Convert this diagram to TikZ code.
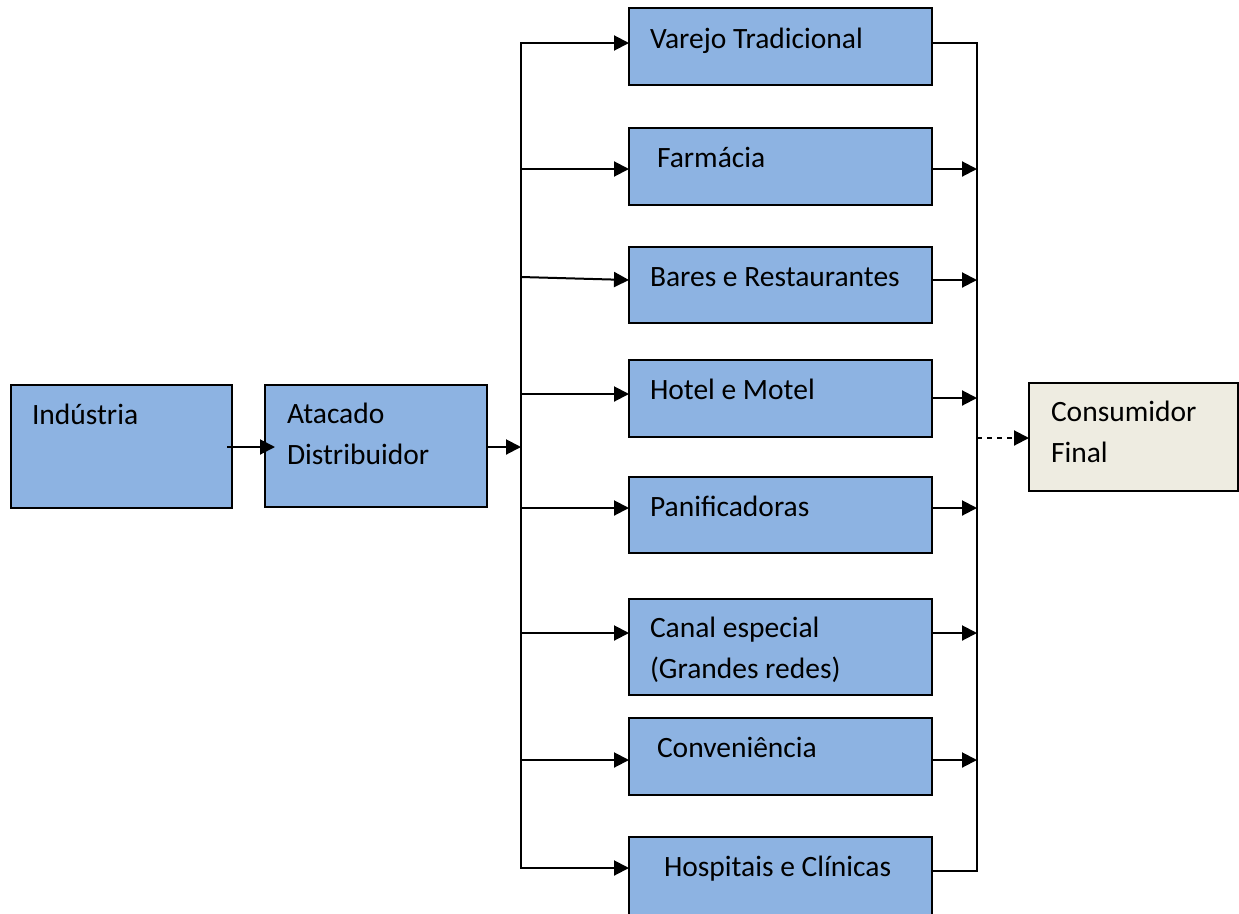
\documentclass[tikz,border=0pt]{standalone}
\usepackage{fontspec}
\setmainfont{Carlito}
\usetikzlibrary{arrows.meta,calc}
\definecolor{boxblue}{HTML}{8DB3E2}
\definecolor{boxbeige}{HTML}{EEECE1}
\newcommand{\twolines}[2]{\vtop{\hbox{#1}\hbox{#2}}}
\tikzset{
  chbox/.style={draw=black, line width=2pt, fill=boxblue, rectangle,
    inner sep=0pt, outer sep=0pt, anchor=north west},
  endbox/.style={chbox, fill=boxbeige},
  lbl/.style={anchor=base west, inner sep=0pt, outer sep=0pt,
    font=\fontsize{29.5}{41}\selectfont},
  link/.style={line width=2pt, -{Triangle[length=15pt,width=15pt]}},
  plainline/.style={line width=2pt},
  spine/.style={line width=2pt, line cap=rect},
}
\begin{document}
\begin{tikzpicture}[x=1pt,y=-1pt]
\path[use as bounding box] (0,0) rectangle (1239,913);
\clip (0,0) rectangle (1239,913);

% boxes
\node[chbox, minimum width=221pt, minimum height=123pt] (ind)    at (11,385)  {};
\node[chbox, minimum width=222pt, minimum height=122pt] (atac)   at (265,385) {};
\node[chbox, minimum width=303pt, minimum height=77pt]  (varejo) at (629,8)   {};
\node[chbox, minimum width=303pt, minimum height=77pt]  (farm)   at (629,128) {};
\node[chbox, minimum width=303pt, minimum height=76pt]  (bares)  at (629,247) {};
\node[chbox, minimum width=303pt, minimum height=77pt]  (hotel)  at (629,360) {};
\node[chbox, minimum width=303pt, minimum height=76pt]  (pan)    at (629,477) {};
\node[chbox, minimum width=303pt, minimum height=96pt]  (canal)  at (629,599) {};
\node[chbox, minimum width=303pt, minimum height=77pt]  (conv)   at (629,718) {};
\node[chbox, minimum width=303pt, minimum height=95pt]  (hosp)   at (629,837) {};
\node[endbox, minimum width=209pt, minimum height=108pt] (cons)  at (1029,383) {};

% labels
\node[lbl] (indt)    at (32,424)   {Indústria};
\node[lbl] (atact)   at (287,423)  {\twolines{Atacado}{Distribuidor}};
\node[lbl] (varejot) at (650,48)   {Varejo Tradicional};
\node[lbl] (farmt)   at (657,167)  {Farmácia};
\node[lbl] (barest)  at (650,286)  {Bares e Restaurantes};
\node[lbl] (hotelt)  at (650,399)  {Hotel e Motel};
\node[lbl] (pant)    at (650,516)  {Panificadoras};
\node[lbl] (canalt)  at (650,637)  {\twolines{Canal especial}{(Grandes redes)}};
\node[lbl] (convt)   at (657,757)  {Conveniência};
\node[lbl] (hospt)   at (664,876)  {Hospitais e Clínicas};
\node[lbl] (const)   at (1051,421) {\twolines{Consumidor}{Final}};

% distribution spine (left) and collection spine (right)
\coordinate (hub) at (521,447);
\coordinate (lA) at (521,43);
\coordinate (lB) at (521,169);
\coordinate (lC) at (521,277);
\coordinate (lD) at (521,394);
\coordinate (lE) at (521,508);
\coordinate (lF) at (521,633);
\coordinate (lG) at (521,760);
\coordinate (lH) at (521,868);
\coordinate (rA) at (977,43);
\coordinate (rB) at (977,169);
\coordinate (rC) at (977,280);
\coordinate (rD) at (977,398);
\coordinate (rE) at (977,508);
\coordinate (rF) at (977,633);
\coordinate (rG) at (977,760);
\coordinate (rH) at (977,871);
\coordinate (rOut) at (977,438);

% industry to wholesaler
\draw[link] ($(ind.east |- hub)+(-5,0)$) -- ($(atac.west |- hub)+(10,0)$);
\draw[link] (atac.east |- hub) -- (hub);

% left spine and branches
\draw[spine] (lA) -- (lH);
\draw[link] (lA) -- (varejo.west |- lA);
\draw[link] (lB) -- (farm.west |- lB);
\draw[link] (lC) -- (bares.west |- 0,280);
\draw[link] (lD) -- (hotel.west |- lD);
\draw[link] (lE) -- (pan.west |- lE);
\draw[link] (lF) -- (canal.west |- lF);
\draw[link] (lG) -- (conv.west |- lG);
\draw[link] (lH) -- (hosp.west |- lH);

% right spine and branches
\draw[spine] (rA) -- (rH);
\draw[plainline] (varejo.east |- rA) -- (rA);
\draw[link] (farm.east |- rB) -- (rB);
\draw[link] (bares.east |- rC) -- (rC);
\draw[link] (hotel.east |- rD) -- (rD);
\draw[link] (pan.east |- rE) -- (rE);
\draw[link] (canal.east |- rF) -- (rF);
\draw[link] (conv.east |- rG) -- (rG);
\draw[plainline] (hosp.east |- rH) -- (rH);

% to the final consumer
\draw[link, dash pattern=on 5pt off 5pt] (rOut) -- (cons.west |- rOut);
\end{tikzpicture}
\end{document}
